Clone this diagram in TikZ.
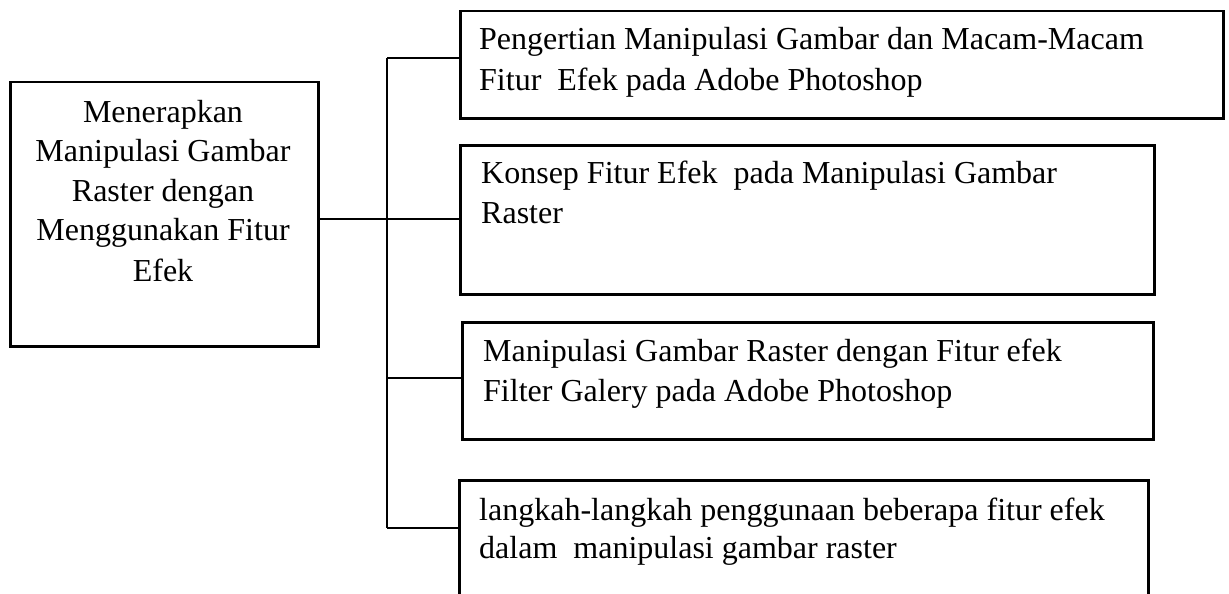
\documentclass[tikz,border=0pt]{standalone}
\usepackage{fontspec}
\setmainfont{Liberation Serif}
\begin{document}
\begin{tikzpicture}[x=1pt,y=-1pt,
  box/.style={draw, line width=2.5pt, rectangle, inner sep=0pt, anchor=north west},
  txt/.style={inner sep=0pt, anchor=base west, font=\fontsize{32}{40}\selectfont},
  ctxt/.style={inner sep=0pt, anchor=base, font=\fontsize{32}{40}\selectfont},
  conn/.style={draw, line width=1.8pt}]
\useasboundingbox (0,0) rectangle (1229,594);
\clip (0,0) rectangle (1229,594);
% main box
\node[box, minimum width=308pt, minimum height=264pt] (main) at (9,81) {};
\node[ctxt] (m1) at (163,122) {Menerapkan};
\node[ctxt] (m2) at (163,161) {Manipulasi Gambar};
\node[ctxt] (m3) at (163,201) {Raster dengan};
\node[ctxt] (m4) at (163,240) {Menggunakan Fitur};
\node[ctxt] (m5) at (163,281) {Efek};
% box 1
\node[box, minimum width=763pt, minimum height=107pt] (b1) at (459,10) {};
\node[txt] (t11) at (479,50) {Pengertian Manipulasi Gambar dan Macam-Macam};
\node[txt] (t12) at (479,90) {Fitur\ \ Efek pada Adobe Photoshop};
% box 2
\node[box, minimum width=694pt, minimum height=149pt] (b2) at (459,144) {};
\node[txt] (t21) at (481,183) {Konsep Fitur Efek\ \ pada Manipulasi Gambar};
\node[txt] (t22) at (481,223) {Raster};
% box 3
\node[box, minimum width=691pt, minimum height=117pt] (b3) at (461,321) {};
\node[txt] (t31) at (483,361) {Manipulasi Gambar Raster dengan Fitur efek};
\node[txt] (t32) at (483,401) {Filter Galery pada Adobe Photoshop};
% box 4
\node[box, minimum width=689pt, minimum height=160pt] (b4) at (458,479) {};
\node[txt] (t41) at (479,520) {langkah-langkah penggunaan beberapa fitur efek};
\node[txt] (t42) at (479,558) {dalam\ \ manipulasi gambar raster};
% connectors
\coordinate (bt) at (387,58);
\coordinate (bb) at (387,528);
\draw[conn] (main.east |- 0,219) -- (b2.west |- 0,219);
\draw[conn] (bt) -- (bb);
\draw[conn] (bt) -- (b1.west |- bt);
\draw[conn] (387,378) -- (b3.west |- 0,378);
\draw[conn] (bb) -- (b4.west |- bb);
\end{tikzpicture}
\end{document}
